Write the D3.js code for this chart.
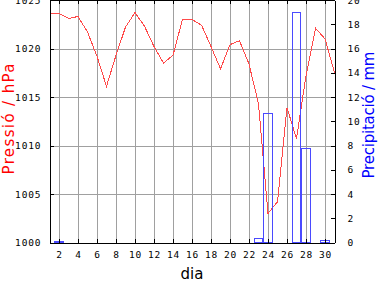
<!DOCTYPE html>
<html lang="ca">
<head>
<meta charset="utf-8">
<title>pressio i precipitacio</title>
<script src="https://cdn.jsdelivr.net/npm/d3@7"></script>
<style>
  html, body { margin: 0; padding: 0; background: #fff; }
  svg { display: block; }
</style>
</head>
<body>
<div id="chart"></div>
<script>
// dies del mes
const days = d3.range(1, 32);
// pressio en hPa, un valor per dia
const pressure = [1023.6, 1023.6, 1023.1, 1023.3, 1021.7, 1019.2, 1016.1, 1019.3, 1022.2, 1023.7,
                  1022.3, 1020.2, 1018.5, 1019.3, 1023.0, 1023.0, 1022.4, 1020.2, 1017.9, 1020.4,
                  1020.8, 1018.4, 1014.3, 1003.0, 1004.2, 1013.9, 1010.7, 1017.2, 1022.1, 1021.0,
                  1017.5];
// precipitacio en mm (nomes dies amb pluja)
const rainDays = [2, 23, 24, 27, 28, 30];
const rain = [0.1, 0.4, 10.7, 19.0, 7.8, 0.2];

const dayTicks = d3.range(2, 31, 2);
const pressTicks = [1000, 1005, 1010, 1015, 1020, 1025];
const rainTicks = d3.range(0, 21, 2);

const W = 384, H = 288;
const pL = 49.5, pR = 334.5, pT = 0, pB = 242.5;

const svg = d3.select("#chart").append("svg").attr("width", W).attr("height", H);

const x = d3.scaleLinear().domain([1, 31]).range([pL, pR]);
const y = d3.scaleLinear().domain([1000, 1025]).range([pB, pT]);
const y2 = d3.scaleLinear().domain([0, 20]).range([pB, pT]);

const tickFont = "'DejaVu Sans Mono', monospace";
const titleFont = "'DejaVu Sans', sans-serif";

// grid
svg.append("g")
  .attr("transform", "translate(0," + pB + ")")
  .call(d3.axisBottom(x).tickValues(dayTicks).tickSize(-(pB - pT)).tickFormat(""))
  .call(g => g.select(".domain").remove())
  .call(g => g.selectAll("line").attr("stroke", "#a0a0a0").attr("shape-rendering", "crispEdges"));
svg.append("g")
  .attr("transform", "translate(" + pL + ",0)")
  .call(d3.axisLeft(y).tickValues([1005, 1010, 1015, 1020]).tickSize(-(pR - pL)).tickFormat(""))
  .call(g => g.select(".domain").remove())
  .call(g => g.selectAll("line").attr("stroke", "#a0a0a0").attr("shape-rendering", "crispEdges"));

// pressure line
const line = d3.line().x((d, i) => x(days[i])).y(d => y(d));
svg.append("path")
  .datum(pressure)
  .attr("d", line)
  .attr("fill", "none")
  .attr("stroke", "#ff4a4a")
  .attr("stroke-width", 1)
  .attr("shape-rendering", "crispEdges");

// rain bars (outline only)
svg.selectAll("rect.rain")
  .data(rain)
  .enter()
  .append("rect")
  .attr("class", "rain")
  .attr("x", (d, i) => Math.round(x(rainDays[i] - 0.52)) + 0.5)
  .attr("width", (d, i) => Math.round(x(rainDays[i] + 0.42)) - Math.round(x(rainDays[i] - 0.52)))
  .attr("y", d => Math.round(y2(d)) + 0.5)
  .attr("height", d => pB - (Math.round(y2(d)) + 0.5))
  .attr("fill", "none")
  .attr("stroke", "#4a4aff")
  .attr("shape-rendering", "crispEdges");

function styleAxis(g) {
  g.select(".domain").attr("stroke", "#000").attr("shape-rendering", "crispEdges");
  g.selectAll(".tick line").attr("stroke", "#000").attr("shape-rendering", "crispEdges");
  g.selectAll("text").attr("font-family", tickFont).attr("font-size", 9.5)
    .attr("letter-spacing", "0.9px").attr("fill", "#000");
}

// bottom axis
svg.append("g")
  .attr("transform", "translate(0," + pB + ")")
  .call(d3.axisBottom(x).tickValues(dayTicks).tickSizeInner(-4).tickSizeOuter(0).tickPadding(9))
  .call(styleAxis);
// top ticks
svg.append("g")
  .attr("transform", "translate(0," + pT + ")")
  .call(d3.axisTop(x).tickValues(dayTicks).tickSizeInner(-4).tickSizeOuter(0).tickFormat(""))
  .call(styleAxis);
// left axis
svg.append("g")
  .attr("transform", "translate(" + pL + ",0)")
  .call(d3.axisLeft(y).tickValues(pressTicks).tickSizeInner(-4).tickSizeOuter(0).tickPadding(8).tickFormat(d3.format("d")))
  .call(styleAxis);
// right axis
svg.append("g")
  .attr("transform", "translate(" + pR + ",0)")
  .call(d3.axisRight(y2).tickValues(rainTicks).tickSizeInner(-4).tickSizeOuter(0).tickPadding(13))
  .call(styleAxis);

// titles
svg.append("text")
  .attr("transform", "translate(13.5,119) rotate(-90)")
  .attr("text-anchor", "middle")
  .attr("font-family", titleFont)
  .attr("font-size", 15)
  .attr("fill", "#ff0000")
  .attr("textLength", 111)
  .attr("lengthAdjust", "spacing")
  .text("Pressió / hPa");

svg.append("text")
  .attr("transform", "translate(374,115) rotate(-90)")
  .attr("text-anchor", "middle")
  .attr("font-family", titleFont)
  .attr("font-size", 15)
  .attr("fill", "#0000ff")
  .attr("textLength", 127)
  .attr("lengthAdjust", "spacing")
  .text("Precipitació / mm");

svg.append("text")
  .attr("x", (pL + pR) / 2)
  .attr("y", 278.5)
  .attr("text-anchor", "middle")
  .attr("font-family", titleFont)
  .attr("font-size", 15)
  .attr("fill", "#000")
  .text("dia");
</script>
</body>
</html>
